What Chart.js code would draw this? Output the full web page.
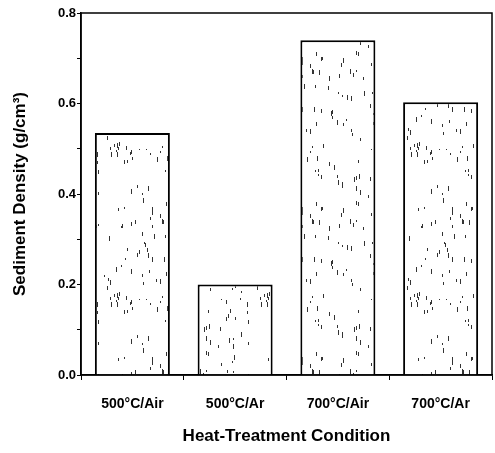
<!DOCTYPE html>
<html lang="en">
<head>
<meta charset="UTF-8">
<style>
body {
    margin: 0;
    background: #fff;
}
.chart-container {
    width: 495px;
    height: 453px;
}
</style>
</head>
<body>
<div class="chart-container">
<canvas id="densityChart"></canvas>
</div>
<script src="https://cdn.jsdelivr.net/npm/chart.js"></script>
<script>
const conditions = ['500\u00B0C/Air', '500\u00B0C/Ar', '700\u00B0C/Air', '700\u00B0C/Ar'];
const densities = [0.535, 0.20, 0.74, 0.603];
const yTicks = [0.0, 0.2, 0.4, 0.6, 0.8];

const ctx = document.getElementById('densityChart').getContext('2d');

// speckled fill like the scanned bars (fixed seed so it looks the same each run)
const speckle = document.createElement('canvas');
speckle.width = 150;
speckle.height = 150;
(function () {
    const g = speckle.getContext('2d');
    g.fillStyle = '#fff';
    g.fillRect(0, 0, 150, 150);
    g.fillStyle = '#333';
    let seed = 11;
    const rnd = () => (seed = (seed * 16807) % 2147483647) / 2147483647;
    for (let i = 0; i < 150; i++) {
        const x = Math.floor(rnd() * 150);
        const y = Math.floor(rnd() * 150);
        g.fillRect(x, y, 1, 2 + Math.floor(rnd() * 4));
    }
})();
const barFill = ctx.createPattern(speckle, 'repeat');

const frame = {
    id: 'frame',
    afterDatasetsDraw(chart) {
        const a = chart.chartArea;
        const c = chart.ctx;
        c.save();
        c.strokeStyle = '#000';
        c.lineWidth = 1.5;
        c.strokeRect(a.left, a.top, a.right - a.left, a.bottom - a.top);
        c.restore();
    }
};

const font = { family: '"Liberation Sans", Arial, sans-serif', weight: 'bold' };

new Chart(ctx, {
    type: 'bar',
    data: {
        labels: conditions,
        datasets: [{
            data: densities,
            backgroundColor: barFill,
            borderColor: '#000',
            borderWidth: 2,
            barPercentage: 0.73,
            categoryPercentage: 1.0
        }]
    },
    options: {
        responsive: true,
        maintainAspectRatio: false,
        animation: false,
        layout: { padding: { top: 13, right: 3, left: 0, bottom: 0 } },
        scales: {
            y: {
                min: 0,
                max: 0.8,
                afterFit: (s) => { s.width = 81; },
                border: { color: '#000', width: 1.5 },
                grid: { drawOnChartArea: false, color: '#000', tickLength: 4 },
                ticks: {
                    stepSize: 0.1,
                    color: '#000',
                    font: { ...font, size: 13 },
                    padding: 1,
                    callback: (v) => {
                        const hit = yTicks.find(t => Math.abs(t - v) < 1e-6);
                        return hit === undefined ? '' : hit.toFixed(1);
                    }
                },
                title: {
                    display: true,
                    text: 'Sediment Density (g/cm\u00B3)',
                    color: '#000',
                    font: { ...font, size: 17 },
                    padding: { top: 10, bottom: 0 }
                }
            },
            x: {
                afterFit: (s) => { s.height = 78; },
                border: { color: '#000', width: 1.5 },
                grid: { drawOnChartArea: false, color: '#000', tickLength: 5 },
                ticks: {
                    color: '#000',
                    font: { ...font, size: 14 },
                    padding: 16
                },
                title: {
                    display: true,
                    text: 'Heat-Treatment Condition',
                    color: '#000',
                    font: { ...font, size: 17 },
                    padding: { top: 0, bottom: 6 }
                }
            }
        },
        plugins: {
            legend: { display: false },
            tooltip: { enabled: false }
        }
    },
    plugins: [frame]
});
</script>
</body>
</html>
